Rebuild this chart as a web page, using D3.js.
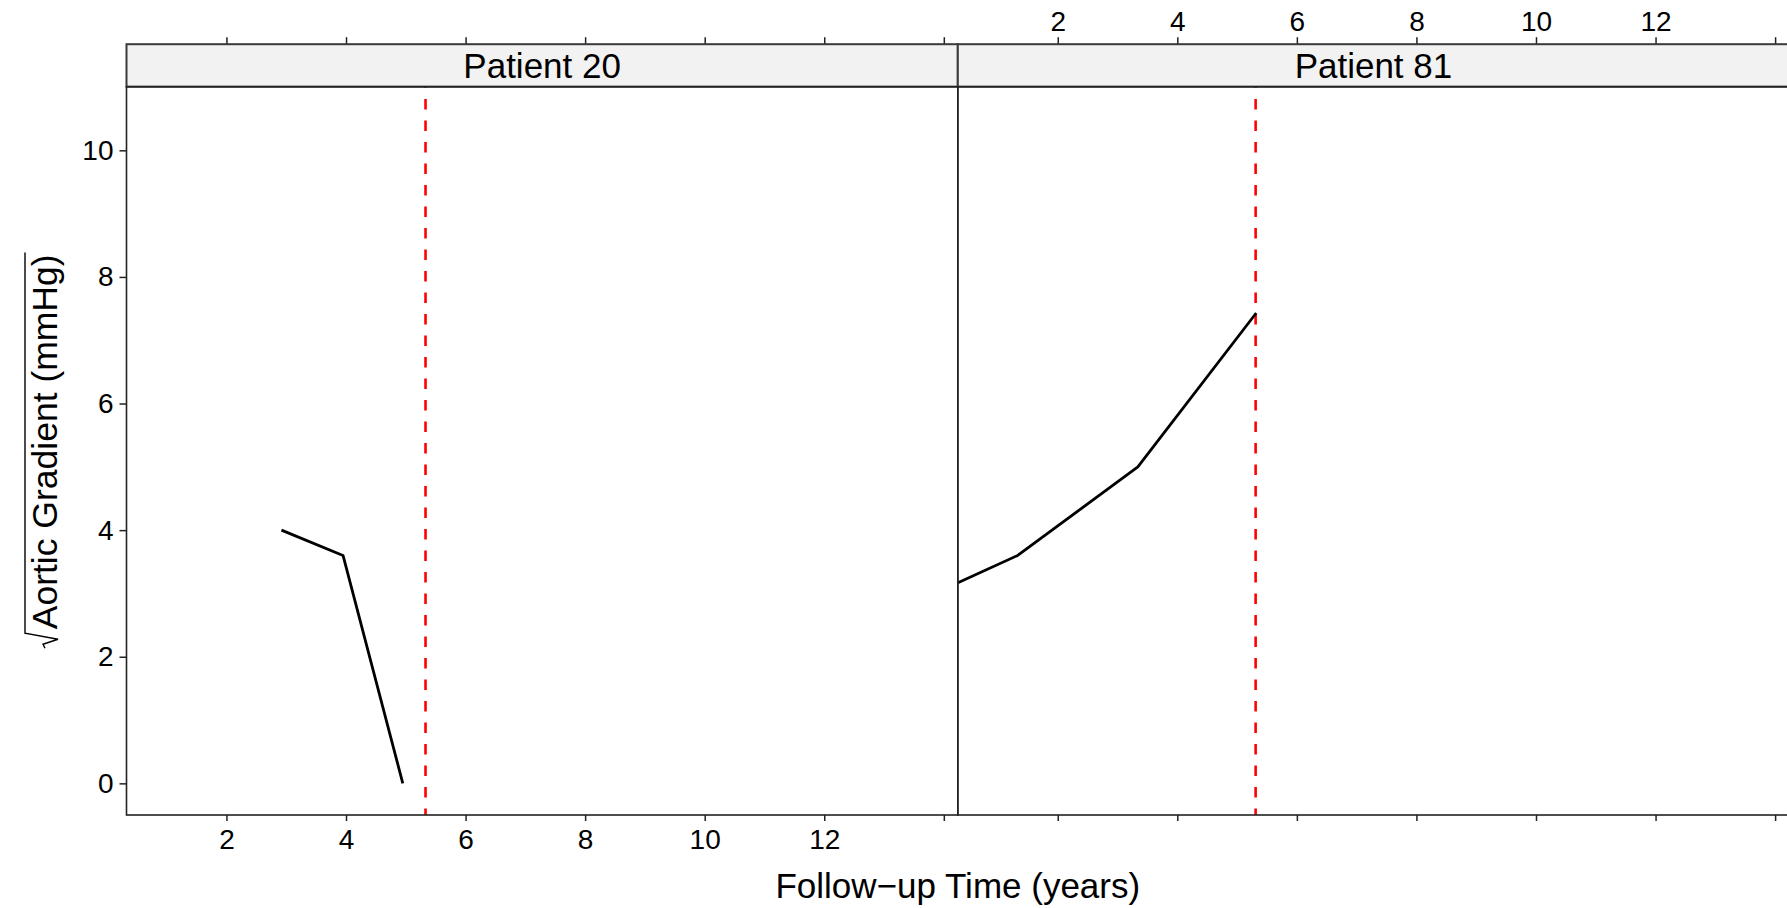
<!DOCTYPE html>
<html>
<head>
<meta charset="utf-8">
<script src="https://cdn.jsdelivr.net/npm/d3@7"></script>
<style>
  html, body { margin: 0; padding: 0; background: #fff; }
  svg { display: block; font-family: "Liberation Sans", Arial, Helvetica, sans-serif; }
</style>
</head>
<body>
<svg id="chart" width="1787" height="908"></svg>
<script>
// Per-patient follow-up measurements
const panelLabels = ["Patient 20", "Patient 81"];
const times20  = [2.92, 3.95, 4.95];
const values20 = [4.0, 3.6, 0.0];
const times81  = [0.33, 1.33, 3.34, 5.32];
const values81 = [3.17, 3.6, 5.0, 7.43];
// Event time marked by the dashed vertical line in each panel
const eventTimes = [5.33, 5.31];

// Axis ticks
const xTicks = [2, 4, 6, 8, 10, 12, 14];
const xTickLabels = ["2", "4", "6", "8", "10", "12", ""];
const yTicks = [0, 2, 4, 6, 8, 10];
const xDomain = [0.328, 14.234];
const yDomain = [-0.5, 11.005];

const xTitle = "Follow\u2212up Time (years)";
const yTitle = "Aortic Gradient (mmHg)";

const panels = [
  { label: panelLabels[0], times: times20, values: values20, event: eventTimes[0] },
  { label: panelLabels[1], times: times81, values: values81, event: eventTimes[1] }
];

// Layout
const left = 126.5, panelW = 831.3;
const stripTop = 44.2, stripBottom = 86.7, plotBottom = 815;
const tickFont = 28, titleFont = 35, yTitleFont = 35.5, stripFont = 35;

const svg = d3.select("#chart");

const y = d3.scaleLinear().domain(yDomain).range([plotBottom, stripBottom]);

panels.forEach((p, i) => {
  const x0 = left + i * panelW;
  const x = d3.scaleLinear().domain(xDomain).range([x0, x0 + panelW]);
  const g = svg.append("g");

  const clipId = "clip" + i;
  svg.append("clipPath").attr("id", clipId)
    .append("rect")
    .attr("x", x0).attr("y", stripBottom)
    .attr("width", panelW).attr("height", plotBottom - stripBottom);

  // strip
  g.append("rect")
    .attr("x", x0).attr("y", stripTop)
    .attr("width", panelW).attr("height", stripBottom - stripTop)
    .attr("fill", "#f2f2f2");
  g.append("text")
    .attr("x", x0 + panelW / 2)
    .attr("y", (stripTop + stripBottom) / 2)
    .attr("dy", "0.35em")
    .attr("text-anchor", "middle")
    .attr("font-size", stripFont)
    .attr("fill", "#000")
    .text(p.label);

  const plot = g.append("g").attr("clip-path", `url(#${clipId})`);

  // dashed event line
  plot.append("line")
    .attr("x1", x(p.event)).attr("x2", x(p.event))
    .attr("y1", stripBottom).attr("y2", plotBottom)
    .attr("stroke", "#ff0000")
    .attr("stroke-width", 2.6)
    .attr("stroke-dasharray", "10.5,11")
    .attr("stroke-dashoffset", 9.2);

  // trajectory
  const pts = p.times.map((t, k) => [t, p.values[k]]);
  plot.append("path")
    .datum(pts)
    .attr("fill", "none")
    .attr("stroke", "#000")
    .attr("stroke-width", 2.8)
    .attr("stroke-linejoin", "round")
    .attr("d", d3.line().x(d => x(d[0])).y(d => y(d[1])));

  // top axis
  const topAxis = d3.axisTop(x).tickValues(xTicks).tickSize(7).tickPadding(6)
    .tickFormat((d, k) => i === 1 ? xTickLabels[k] : "");
  const gt = g.append("g").attr("transform", `translate(0,${stripTop})`).call(topAxis);

  // bottom axis
  const botAxis = d3.axisBottom(x).tickValues(xTicks).tickSize(6).tickPadding(8.5)
    .tickFormat((d, k) => i === 0 ? xTickLabels[k] : "");
  const gb = g.append("g").attr("transform", `translate(0,${plotBottom})`).call(botAxis);

  [gt, gb].forEach(a => {
    a.select(".domain").remove();
    a.selectAll(".tick line").attr("stroke", "#222").attr("stroke-width", 1.5);
    a.selectAll(".tick text").attr("font-size", tickFont).attr("fill", "#000")
      .attr("font-family", "Liberation Sans, Arial, sans-serif");
  });

  if (i === 0) {
    const la = d3.axisLeft(y).tickValues(yTicks).tickSize(7).tickPadding(6);
    const gl = g.append("g").attr("transform", `translate(${x0},0)`).call(la);
    gl.select(".domain").remove();
    gl.selectAll(".tick line").attr("stroke", "#222").attr("stroke-width", 1.5);
    gl.selectAll(".tick text").attr("font-size", tickFont).attr("fill", "#000")
      .attr("font-family", "Liberation Sans, Arial, sans-serif");
  }

  // borders
  g.append("rect")
    .attr("x", x0).attr("y", stripTop)
    .attr("width", panelW).attr("height", stripBottom - stripTop)
    .attr("fill", "none").attr("stroke", "#3a3a3a").attr("stroke-width", 2);
  g.append("rect")
    .attr("x", x0).attr("y", stripBottom)
    .attr("width", panelW).attr("height", plotBottom - stripBottom)
    .attr("fill", "none").attr("stroke", "#222").attr("stroke-width", 1.6);
});

// x-axis title
svg.append("text")
  .attr("x", left + panelW)
  .attr("y", 898)
  .attr("text-anchor", "middle")
  .attr("font-size", titleFont)
  .attr("fill", "#000")
  .text(xTitle);

// y-axis title with a square-root sign
const yt = svg.append("g")
  .attr("transform", `translate(57,${(stripBottom + plotBottom) / 2}) rotate(-90)`);
const ytText = yt.append("text")
  .attr("font-size", yTitleFont)
  .attr("fill", "#000")
  .text(yTitle);
const L = ytText.node().getComputedTextLength();
const rad = 18;
const start = -(rad + L + 2) / 2;
ytText.attr("x", start + rad + 1).attr("y", 0);
yt.append("path")
  .attr("fill", "none")
  .attr("stroke", "#000")
  .attr("stroke-width", 1.4)
  .attr("stroke-linejoin", "miter")
  .attr("d", [
    [start, -12], [start + 4, -14], [start + 9, 1], [start + 15, -32], [start + rad + L + 3, -32]
  ].map((q, k) => (k ? "L" : "M") + q[0] + "," + q[1]).join(""));
</script>
</body>
</html>
